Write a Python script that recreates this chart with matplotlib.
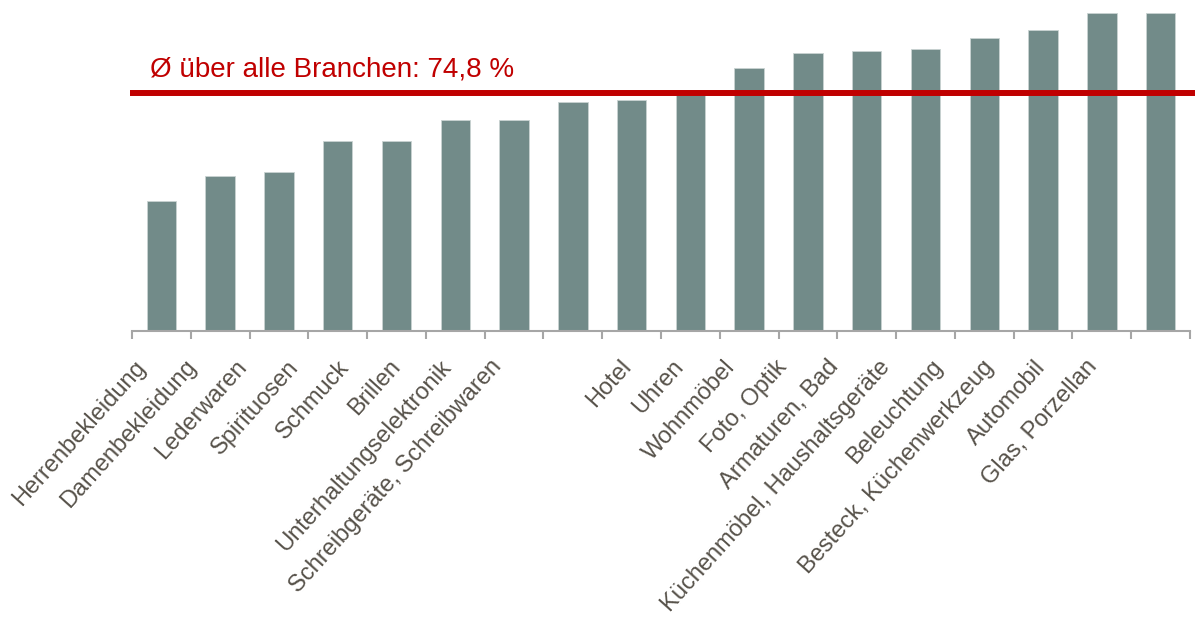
import numpy as np
import matplotlib.pyplot as plt
import matplotlib.transforms as mtransforms

plt.rcParams['font.family'] = ['Liberation Sans', 'DejaVu Sans']

branchen = ['Herrenbekleidung', 'Damenbekleidung', 'Lederwaren', 'Spirituosen',
            'Schmuck', 'Brillen', 'Unterhaltungselektronik', 'Schreibgeräte, Schreibwaren',
            'Hotel', 'Uhren', 'Wohnmöbel', 'Foto, Optik', 'Armaturen, Bad',
            'Küchenmöbel, Haushaltsgeräte', 'Beleuchtung', 'Besteck, Küchenwerkzeug',
            'Automobil', 'Glas, Porzellan']
werte = [40.9, 48.7, 50.0, 59.7, 59.7, 66.4, 66.4, 72.0, 72.6, 74.2,
         82.7, 87.4, 88.1, 88.7, 92.1, 94.7, 100.0, 100.0]
durchschnitt = 74.8

fig = plt.figure(figsize=(11.95, 6.26), dpi=100)
ax = fig.add_axes([132/1195, 1-331/626, 1058/1195, 318/626])

x = np.arange(len(branchen))
ax.bar(x, werte, width=0.5, color='#728b89', edgecolor='#c9d3d2', linewidth=0.6, zorder=2)
ax.set_xlim(-0.5, len(branchen)-0.5)
ax.set_ylim(0, 100)

# Durchschnittslinie, etwas ueber den Achsenrand hinaus
trans = mtransforms.blended_transform_factory(ax.transAxes, ax.transData)
ax.plot([-0.002, 1.005], [durchschnitt, durchschnitt], color='#c00000', lw=4.3,
        transform=trans, clip_on=False, zorder=3, solid_capstyle='butt')
txt = 'Ø über alle Branchen: ' + f'{durchschnitt:.1f}'.replace('.', ',') + ' %'
ax.text(-0.5 + 0.3, durchschnitt + 5.3, txt, color='#c00000', fontsize=20,
        va='baseline', ha='left')

for s in ['top', 'right', 'left']:
    ax.spines[s].set_visible(False)
ax.spines['bottom'].set_color('#a6a6a6')
ax.spines['bottom'].set_linewidth(1.5)
ax.set_yticks([])

ax.set_xticks(x)
ax.set_xticklabels(branchen, rotation=48, ha='right', rotation_mode='anchor',
                   fontsize=17, color='#57524a')
ax.tick_params(axis='x', which='major', length=0, pad=18)
ax.set_xticks(np.arange(len(branchen)+1) - 0.5, minor=True)
ax.tick_params(axis='x', which='minor', length=6, width=1.5, color='#a6a6a6')

# Beschriftungen wie im Original etwas zur Mitte gestaucht (Pixelversatz)
for i, lab in enumerate(ax.get_xticklabels()):
    if i < 8:
        dx = -28 - 7.8 * i
    else:
        dx = -12 - 7.0 * (i - 8)
    lab.set_transform(lab.get_transform() + mtransforms.Affine2D().translate(dx, 0))

fig.savefig('out.png', dpi=100)
